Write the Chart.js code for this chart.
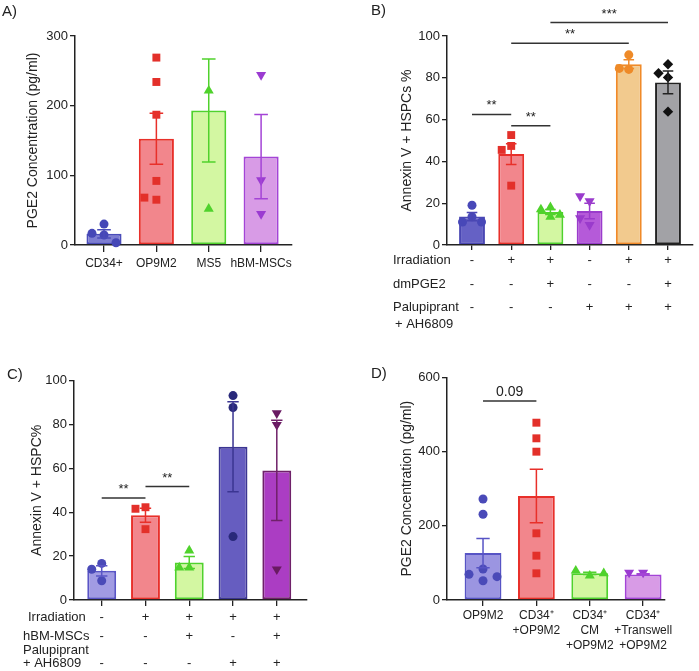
<!DOCTYPE html>
<html><head><meta charset="utf-8">
<script src="https://cdn.jsdelivr.net/npm/chart.js@4"></script>
<style>
body{margin:0;background:#fff;}
#wrap{position:relative;width:699px;height:671px;font-family:"Liberation Sans",Arial,sans-serif;overflow:hidden;}
canvas{position:absolute;}
.pl{position:absolute;font-size:15px;line-height:15px;color:#222;}
</style></head><body>
<div id="wrap">
<canvas id="cA" width="350" height="330" style="left:0;top:0"></canvas>
<canvas id="cB" width="349" height="340" style="left:350px;top:0"></canvas>
<canvas id="cC" width="350" height="331" style="left:0;top:340px"></canvas>
<canvas id="cD" width="349" height="331" style="left:350px;top:340px"></canvas>
<div class="pl" style="left:2px;top:3px">A)</div>
<div class="pl" style="left:371px;top:2px">B)</div>
<div class="pl" style="left:7px;top:366px">C)</div>
<div class="pl" style="left:371px;top:365px">D)</div>
</div>
<script>
// ---------- Panel A data ----------
const aCategories = ['CD34+', 'OP9M2', 'MS5', 'hBM-MSCs'];
const aMeans = [16, 152.5, 193, 127];
const aSem = [6, 36.5, 74, 60.5];
const aPoints = [
  [30, 16.7, 14.4, 3.3],
  [269, 234, 187, 92, 65, 68],
  [221.5, 52],
  [244, 93, 44.5]
];
const aYTicks = [0, 100, 200, 300];

// ---------- Panel B data ----------
const bMeans = [13.6, 43.5, 15.8, 16.3, 86.5, 77.8];
const bSem = [2, 5, 1.2, 3.7, 2.1, 5.4];
const bPoints = [
  [19, 13.5, 11, 11],
  [52.6, 47.4, 45.5, 28.4],
  [18, 17, 13.5, 14.4],
  [21, 23.4, 9.6, 12.8],
  [91, 84, 84.5],
  [86.5, 82.2, 80.2, 63.8]
];
const bIrradiation = ['-', '+', '+', '-', '+', '+'];
const bDmPGE2 = ['-', '-', '+', '-', '-', '+'];
const bPalupiprant = ['-', '-', '-', '+', '+', '+'];
const bYTicks = [0, 20, 40, 60, 80, 100];
const bSignif = [
  {from: 0, to: 1, y: 62.5, text: '**'},
  {from: 1, to: 2, y: 57, text: '**'},
  {from: 1, to: 4, y: 96.5, text: '**'},
  {from: 2, to: 5, y: 106.4, text: '***'}
];

// ---------- Panel C data ----------
const cMeans = [13.3, 38.6, 17.1, 69.9, 59.1];
const cSem = [2.3, 3.2, 2.7, 20.5, 22.9];
const cPoints = [
  [16.7, 14, 8.8],
  [42.3, 41.6, 32.3],
  [22.5, 14.8, 14.8],
  [93.2, 87.8, 28.9],
  [85.2, 79.9, 14]
];
const cIrradiation = ['-', '+', '+', '+', '+'];
const cHBM = ['-', '-', '+', '-', '+'];
const cPalupiprant = ['-', '-', '-', '+', '+'];
const cYTicks = [0, 20, 40, 60, 80, 100];
const cSignif = [
  {from: 0, to: 1, y: 46.5, text: '**'},
  {from: 1, to: 2, y: 51.7, text: '**'}
];

// ---------- Panel D data ----------
const dCategories = [['OP9M2'], ['CD34\u207A', '+OP9M2'], ['CD34\u207A', 'CM', '+OP9M2'], ['CD34\u207A', '+Transwell', '+OP9M2']];
const dMeans = [126.5, 280, 72, 69];
const dSem = [39.5, 72, 3, 2];
const dPoints = [
  [272, 231, 83.5, 69.2, 62.8, 52],
  [477.7, 435.6, 399.6, 179.7, 119.4, 71.9],
  [65.5, 79, 72],
  [74, 74]
];
const dYTicks = [0, 200, 400, 600];
const dSignif = [{from: 0, to: 1, y: 536, text: '0.09'}];

// ---------- rendering ----------
const FONT = "'Liberation Sans', Arial, sans-serif";
Chart.defaults.font.family = FONT;
Chart.defaults.color = '#222';

const RED_F = '#f2868c', RED_B = '#e8302a', RED_P = '#e3302a';
const GRN_F = '#d3f7a2', GRN_B = '#50d22c', GRN_P = '#4fd22c';

const errPlugin = {
  id: 'errbars',
  afterDatasetsDraw(chart, args, o) {
    const {ctx} = chart, x = chart.scales.x, y = chart.scales.y;
    const cap = (x.getPixelForValue(1) - x.getPixelForValue(0)) * o.capFrac;
    ctx.save();
    ctx.lineWidth = 1.5;
    o.means.forEach((m, i) => {
      const s = o.sems[i];
      const px = x.getPixelForValue(i);
      const t = y.getPixelForValue(m + s), b = y.getPixelForValue(Math.max(m - s, 0));
      ctx.strokeStyle = o.colors[i];
      ctx.beginPath();
      ctx.moveTo(px, t); ctx.lineTo(px, b);
      ctx.moveTo(px - cap / 2, t); ctx.lineTo(px + cap / 2, t);
      ctx.moveTo(px - cap / 2, b); ctx.lineTo(px + cap / 2, b);
      ctx.stroke();
    });
    ctx.restore();
  }
};

const bracketPlugin = {
  id: 'brackets',
  afterDraw(chart, args, o) {
    if (!o.items) return;
    const {ctx} = chart, x = chart.scales.x, y = chart.scales.y;
    ctx.save();
    ctx.strokeStyle = '#333';
    ctx.fillStyle = '#222';
    ctx.lineWidth = 1.5;
    ctx.textAlign = 'center';
    ctx.textBaseline = 'alphabetic';
    o.items.forEach(b => {
      const x1 = x.getPixelForValue(b.from), x2 = x.getPixelForValue(b.to);
      const yy = y.getPixelForValue(b.y);
      ctx.beginPath(); ctx.moveTo(x1, yy); ctx.lineTo(x2, yy); ctx.stroke();
      ctx.font = (b.text.indexOf('*') >= 0 ? '13px ' : '14px ') + FONT;
      ctx.fillText(b.text, (x1 + x2) / 2, yy - 5);
    });
    ctx.restore();
  }
};

const rowsPlugin = {
  id: 'rows',
  afterDraw(chart, args, o) {
    if (!o.rows) return;
    const {ctx} = chart, x = chart.scales.x;
    const base = chart.chartArea.bottom;
    ctx.save();
    ctx.fillStyle = '#222';
    ctx.font = '13px ' + FONT;
    ctx.textBaseline = 'middle';
    o.rows.forEach(r => {
      if (r.label) { ctx.textAlign = 'left'; ctx.fillText(r.label, r.lx, base + r.dy); }
      if (r.signs) {
        ctx.textAlign = 'center';
        r.signs.forEach((s, i) => ctx.fillText(s, x.getPixelForValue(i), base + r.dy));
      }
    });
    ctx.restore();
  }
};

function swarm(chart, groups, step, minDist) {
  const x = chart.scales.x, y = chart.scales.y;
  const unit = x.getPixelForValue(1) - x.getPixelForValue(0);
  groups.forEach((vals, g) => {
    const placed = [];
    const ds = chart.data.datasets[g + 1];
    vals.forEach((v, k) => {
      const py = y.getPixelForValue(v);
      let off = 0;
      for (const c of [0, -1, 1, -2, 2, -3, 3]) {
        const px = c * step;
        if (placed.every(p => Math.hypot(p.px - px, p.py - py) >= minDist)) { off = px; break; }
      }
      placed.push({px: off, py});
      ds.data[k].x = g + off / unit;
    });
  });
  chart.update('none');
}

function buildPanel(c) {
  const ds = [{
    type: 'bar', order: 2,
    data: c.means.map((m, i) => ({x: i, y: m})),
    backgroundColor: c.fills, borderColor: c.borders, borderWidth: 2, borderSkipped: false,
    categoryPercentage: 1, barPercentage: c.barPct
  }];
  c.points.forEach((vals, g) => ds.push({
    type: 'scatter', order: 1, clip: false,
    data: vals.map(v => ({x: g, y: v})),
    pointStyle: c.styles[g], pointRotation: c.rots[g], pointRadius: c.radii[g],
    pointBackgroundColor: c.pcolors[g], pointBorderColor: c.pcolors[g], pointBorderWidth: 0,
    pointHoverRadius: c.radii[g]
  }));
  const chart = new Chart(document.getElementById(c.id), {
    type: 'bar',
    data: {datasets: ds},
    options: {
      responsive: false, animation: false, events: [],
      layout: {padding: c.pad},
      plugins: {
        legend: {display: false}, tooltip: {enabled: false},
        errbars: {means: c.means, sems: c.sems, colors: c.borders, capFrac: c.capFrac},
        brackets: {items: c.signif},
        rows: {rows: c.rows}
      },
      scales: {
        x: {
          type: 'linear', min: c.xMin, max: c.xMax, offset: false, bounds: 'data',
          grid: {display: true, drawOnChartArea: false, drawTicks: true, tickLength: c.xTick, color: '#222', lineWidth: 1.3, offset: false},
          border: {display: true, color: '#222', width: 1.5},
          afterBuildTicks: s => { s.ticks = c.means.map((_, i) => ({value: i})); },
          afterFit: s => { s.height = c.xH; },
          ticks: {autoSkip: false, maxRotation: 0, minRotation: 0, padding: c.xPad,
            font: {size: 12, lineHeight: 1.25}, color: '#222',
            callback: (v, i) => c.labels ? c.labels[i] : ''}
        },
        y: {
          min: c.yTicks[0], max: c.yTicks[c.yTicks.length - 1],
          afterBuildTicks: s => { s.ticks = c.yTicks.map(v => ({value: v})); },
          afterFit: s => { s.width = c.yW; },
          grid: {display: true, drawOnChartArea: false, drawTicks: true, tickLength: 5, color: '#222', lineWidth: 1.3},
          border: {display: true, color: '#222', width: 1.5},
          ticks: {padding: 2, font: {size: 13}, color: '#222'},
          title: {display: true, text: c.yTitle, font: {size: 14}, color: '#222', padding: {top: c.titlePad, bottom: 0}}
        }
      }
    },
    plugins: [errPlugin, bracketPlugin, rowsPlugin]
  });
  swarm(chart, c.points, c.step, c.minDist);
  return chart;
}

// Panel A
buildPanel({
  id: 'cA', labels: aCategories, means: aMeans, sems: aSem, points: aPoints, yTicks: aYTicks,
  fills: ['#7d7dd2', RED_F, GRN_F, '#d89be6'],
  borders: ['#4a4cb9', RED_B, GRN_B, '#a444d6'],
  pcolors: ['#4547b7', RED_P, GRN_P, '#9b3bd1'],
  styles: ['circle', 'rect', 'triangle', 'triangle'], rots: [0, 0, 0, 180], radii: [4.5, 5.6, 5.8, 5.8],
  xMin: -0.554, xMax: 3.59, barPct: 0.67, capFrac: 0.26,
  pad: {left: 0, right: 58, top: 36, bottom: 45}, xH: 40, xTick: 7, xPad: 4, yW: 75, titlePad: 25,
  yTitle: 'PGE2 Concentration (pg/ml)', step: 12, minDist: 9.5
});

// Panel B
buildPanel({
  id: 'cB', labels: null, means: bMeans, sems: bSem, points: bPoints, yTicks: bYTicks,
  fills: ['#6561c5', RED_F, GRN_F, '#b55ad9', '#f2ca8e', '#a2a2a6'],
  borders: ['#4a47b3', RED_B, GRN_B, '#9a3bcc', '#f08a28', '#222222'],
  pcolors: ['#4848b8', RED_P, GRN_P, '#9a3bcc', '#ee8a28', '#111111'],
  styles: ['circle', 'rect', 'triangle', 'triangle', 'circle', 'rectRot'], rots: [0, 0, 0, 180, 0, 0],
  radii: [4.5, 5.6, 5.8, 5.8, 4.5, 5.2],
  xMin: -0.638, xMax: 5.638, barPct: 0.66, capFrac: 0.27,
  pad: {left: 0, right: 6, top: 36, bottom: 85}, xH: 10, xTick: 5, xPad: 0, yW: 97, titlePad: 49,
  yTitle: 'Annexin V + HSPCs %', step: 9.5, minDist: 9,
  signif: bSignif,
  rows: [
    {label: 'Irradiation', lx: 43, dy: 15, signs: bIrradiation},
    {label: 'dmPGE2', lx: 43, dy: 39, signs: bDmPGE2},
    {label: 'Palupiprant', lx: 43, dy: 62, signs: bPalupiprant},
    {label: '+ AH6809', lx: 45, dy: 79}
  ]
});

// Panel C
buildPanel({
  id: 'cC', labels: null, means: cMeans, sems: cSem, points: cPoints, yTicks: cYTicks,
  fills: ['#a19be3', RED_F, GRN_F, '#665dc0', '#ab3dc3'],
  borders: ['#5a55c6', RED_B, GRN_B, '#3b3592', '#6f2169'],
  pcolors: ['#4a4ab8', RED_P, GRN_P, '#29297a', '#691a62'],
  styles: ['circle', 'rect', 'triangle', 'circle', 'triangle'], rots: [0, 0, 0, 0, 180],
  radii: [4.5, 5.6, 5.8, 4.5, 5.8],
  xMin: -0.633, xMax: 4.69, barPct: 0.66, capFrac: 0.26,
  pad: {left: 0, right: 43, top: 40.7, bottom: 61}, xH: 10, xTick: 6, xPad: 0, yW: 74, titlePad: 29,
  yTitle: 'Annexin V + HSPC%', step: 10, minDist: 9,
  signif: cSignif,
  rows: [
    {label: 'Irradiation', lx: 28, dy: 17, signs: cIrradiation},
    {label: 'hBM-MSCs', lx: 23, dy: 36, signs: cHBM},
    {label: 'Palupiprant', lx: 23, dy: 50},
    {label: '+ AH6809', lx: 23, dy: 63, signs: cPalupiprant}
  ]
});

// Panel D
buildPanel({
  id: 'cD', labels: dCategories, means: dMeans, sems: dSem, points: dPoints, yTicks: dYTicks,
  fills: ['#9b95e1', RED_F, GRN_F, '#d89be6'],
  borders: ['#5754c5', RED_B, GRN_B, '#a444d6'],
  pcolors: ['#4a4ab8', RED_P, GRN_P, '#9b3bd1'],
  styles: ['circle', 'rect', 'triangle', 'triangle'], rots: [0, 0, 0, 180], radii: [4.5, 5.6, 5.8, 5.8],
  xMin: -0.675, xMax: 3.41, barPct: 0.69, capFrac: 0.25,
  pad: {left: 0, right: 34, top: 37.3, bottom: 11}, xH: 60, xTick: 6, xPad: 2, yW: 97, titlePad: 49,
  yTitle: 'PGE2 Concentration (pg/ml)', step: 14, minDist: 9.5,
  signif: dSignif
});
</script>
</body></html>
